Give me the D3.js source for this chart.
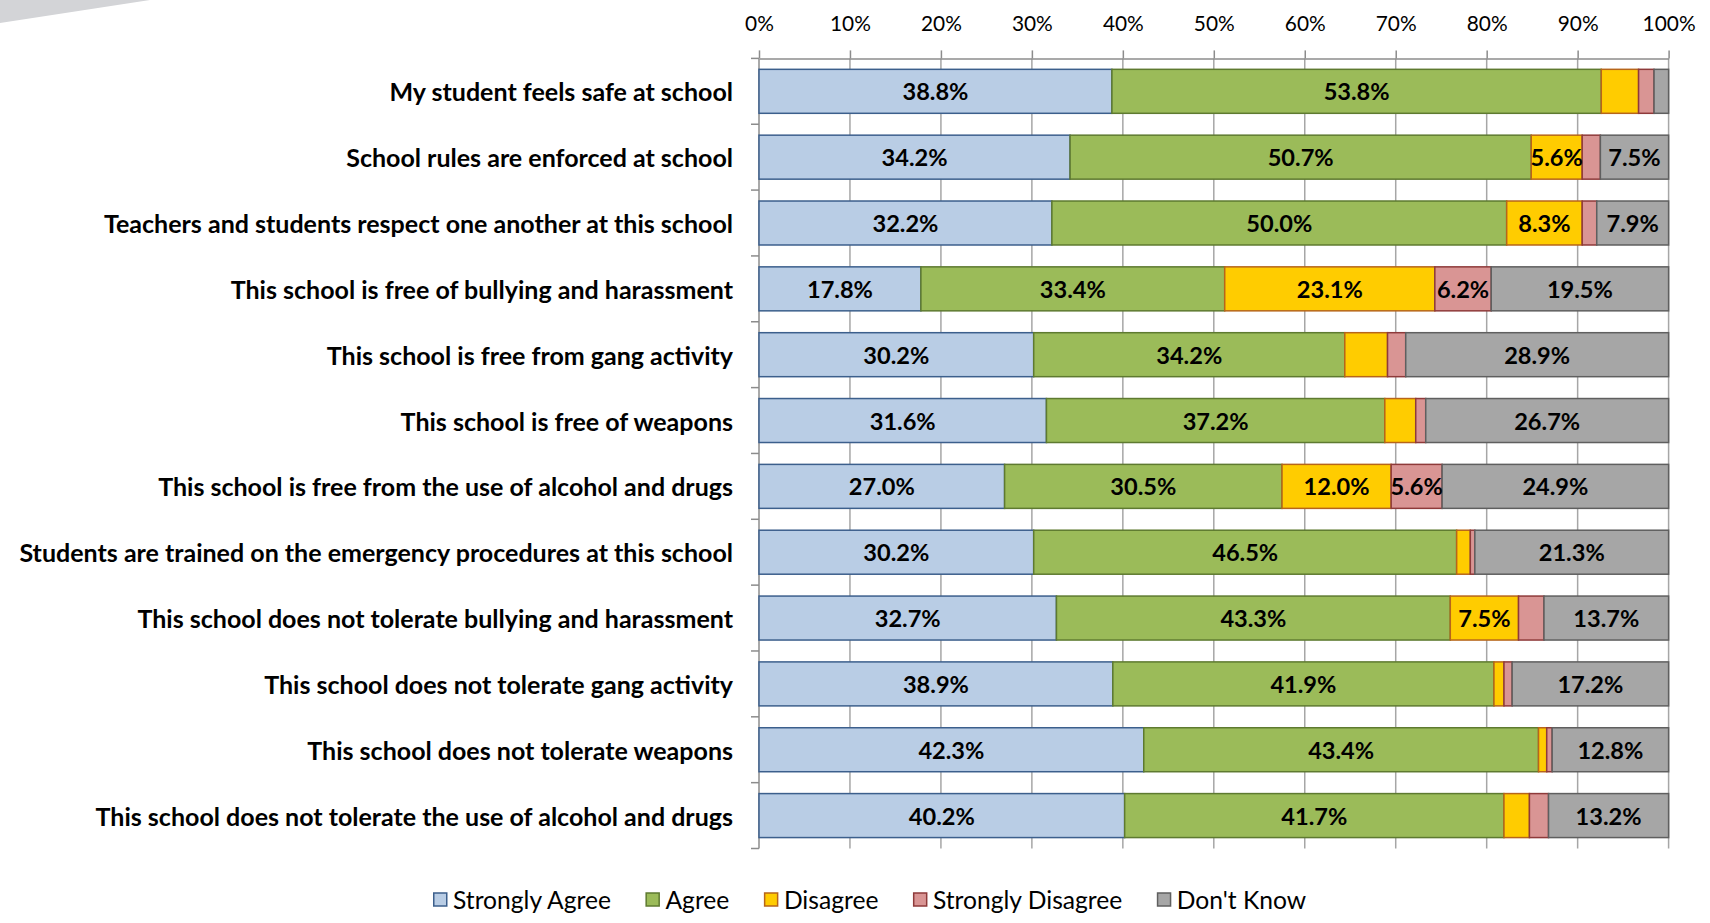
<!DOCTYPE html>
<html><head><meta charset="utf-8">
<script src="https://cdn.jsdelivr.net/npm/d3@7"></script>
<style>body{margin:0;background:#fff;} svg{display:block;}</style>
</head><body><svg id="c" width="1710" height="923"></svg>
<script>
const categories = [
  "My student feels safe at school",
  "School rules are enforced at school",
  "Teachers and students respect one another at this school",
  "This school is free of bullying and harassment",
  "This school is free from gang activity",
  "This school is free of weapons",
  "This school is free from the use of alcohol and drugs",
  "Students are trained on the emergency procedures at this school",
  "This school does not tolerate bullying and harassment",
  "This school does not tolerate gang activity",
  "This school does not tolerate weapons",
  "This school does not tolerate the use of alcohol and drugs"
];
const seriesNames = ["Strongly Agree", "Agree", "Disagree", "Strongly Disagree", "Don't Know"];
const stronglyAgree    = [38.8, 34.2, 32.2, 17.8, 30.2, 31.6, 27.0, 30.2, 32.7, 38.9, 42.3, 40.2];
const agree            = [53.8, 50.7, 50.0, 33.4, 34.2, 37.2, 30.5, 46.5, 43.3, 41.9, 43.4, 41.7];
const disagree         = [4.1, 5.6, 8.3, 23.1, 4.7, 3.4, 12.0, 1.5, 7.5, 1.1, 0.9, 2.8];
const stronglyDisagree = [1.7, 2.0, 1.6, 6.2, 2.0, 1.1, 5.6, 0.5, 2.8, 0.9, 0.6, 2.1];
const dontKnow         = [1.6, 7.5, 7.9, 19.5, 28.9, 26.7, 24.9, 21.3, 13.7, 17.2, 12.8, 13.2];
const tickValues = [0, 10, 20, 30, 40, 50, 60, 70, 80, 90, 100];
const tickLabels = ["0%", "10%", "20%", "30%", "40%", "50%", "60%", "70%", "80%", "90%", "100%"];

const fills   = ["#B9CDE5", "#9BBB59", "#FFCC00", "#D99594", "#A6A6A6"];
const strokes = ["#3C5F8C", "#5E7A30", "#B7651A", "#8E3A3A", "#5F5F5F"];
const FONT = "Lato, 'Open Sans', sans-serif";

const seriesValues = [stronglyAgree, agree, disagree, stronglyDisagree, dontKnow];
const rows = categories.map((c, i) => {
  const o = {category: c};
  seriesNames.forEach((s, k) => o[s] = seriesValues[k][i]);
  return o;
});
const stacked = d3.stack().keys(seriesNames)(rows);

const svg = d3.select("#c");

// decorative wedge at top-left
svg.append("path").attr("d", "M0,0 L150,0 L0,23 Z").attr("fill", "#D3D4D7");

// font fitting helper
function fitSize(sample, weight, target) {
  const t = svg.append("text").attr("font-family", FONT).attr("font-weight", weight)
    .attr("font-size", 100).text(sample);
  const w = t.node().getComputedTextLength();
  t.remove();
  return 100 * target / w;
}
const catSize = fitSize("Students are trained on the emergency procedures at this school", "bold", 714);
const valSize = fitSize("53.8%", "bold", 66);
const tickSize = fitSize("100%", "normal", 53);
const legSize = fitSize("Strongly Agree", "normal", 158);

const x = d3.scaleLinear().domain([0, 100]).range([759, 1668.6]);
const y = d3.scaleBand().domain(categories).range([58.4, 848.5]).paddingInner(0.332).paddingOuter(0.166);
const yTop = 58.4, yBot = 848.5;

// gridlines
svg.append("g").selectAll("line").data(tickValues.filter(d => d > 0)).join("line")
  .attr("x1", d => x(d)).attr("x2", d => x(d))
  .attr("y1", yTop).attr("y2", yBot)
  .attr("stroke", "#A6A6A6").attr("stroke-width", 1.5);

// top axis
const axTop = svg.append("g").attr("transform", `translate(0,${yTop})`)
  .call(d3.axisTop(x).tickValues(tickValues).tickFormat((d, i) => tickLabels[i])
    .tickSize(8).tickSizeOuter(0).tickPadding(19));
axTop.select(".domain").attr("stroke", "#8C8C8C").attr("stroke-width", 1.5);
axTop.selectAll(".tick line").attr("stroke", "#8C8C8C").attr("stroke-width", 1.5);
axTop.selectAll(".tick text").attr("font-family", FONT).attr("font-size", tickSize).attr("fill", "#000");

// left axis line + ticks at band boundaries
const gap = (y.step() - y.bandwidth()) / 2;
const boundaries = categories.map(c => y(c) - gap).concat([y(categories[categories.length - 1]) + y.bandwidth() + gap]);
svg.append("line").attr("x1", x(0)).attr("x2", x(0)).attr("y1", yTop).attr("y2", yBot)
  .attr("stroke", "#8C8C8C").attr("stroke-width", 1.5);
svg.append("g").selectAll("line").data(boundaries).join("line")
  .attr("x1", x(0) - 8).attr("x2", x(0)).attr("y1", d => d).attr("y2", d => d)
  .attr("stroke", "#8C8C8C").attr("stroke-width", 1.5);

// bars
const layers = svg.append("g").selectAll("g").data(stacked).join("g")
  .attr("fill", (d, i) => fills[i]).attr("stroke", (d, i) => strokes[i]).attr("stroke-width", 1.5);
layers.selectAll("rect").data(d => d).join("rect")
  .attr("x", d => x(d[0])).attr("width", d => x(d[1]) - x(d[0]))
  .attr("y", d => y(d.data.category)).attr("height", y.bandwidth());

// value labels
const lbl = svg.append("g");
stacked.forEach((layer, k) => {
  layer.forEach(d => {
    const v = d[1] - d[0];
    if (v >= 5) {
      lbl.append("text")
        .attr("x", (x(d[0]) + x(d[1])) / 2)
        .attr("y", y(d.data.category) + y.bandwidth() / 2)
        .attr("text-anchor", "middle").attr("dominant-baseline", "central")
        .attr("font-family", FONT).attr("font-weight", "bold").attr("font-size", valSize)
        .attr("fill", "#000")
        .text(d3.format(".1f")(d.data[layer.key]) + "%");
    }
  });
});

// category labels
svg.append("g").selectAll("text").data(categories).join("text")
  .attr("x", x(0) - 26).attr("y", d => y(d) + y.bandwidth() / 2)
  .attr("text-anchor", "end").attr("dominant-baseline", "central")
  .attr("font-family", FONT).attr("font-weight", "bold").attr("font-size", catSize)
  .attr("fill", "#000").text(d => d);

// legend
const leg = svg.append("g").attr("transform", "translate(433,899)");
let cx = 0;
seriesNames.forEach((s, i) => {
  const g = leg.append("g").attr("transform", `translate(${cx},0)`);
  g.append("rect").attr("x", 0.75).attr("y", -6).attr("width", 13).attr("height", 13)
    .attr("fill", fills[i]).attr("stroke", strokes[i]).attr("stroke-width", 1.5);
  const t = g.append("text").attr("x", 20).attr("y", 0).attr("dominant-baseline", "central")
    .attr("font-family", FONT).attr("font-size", legSize).attr("fill", "#000").text(s);
  cx += 20 + t.node().getComputedTextLength() + 34.5;
});
</script>
</body></html>
